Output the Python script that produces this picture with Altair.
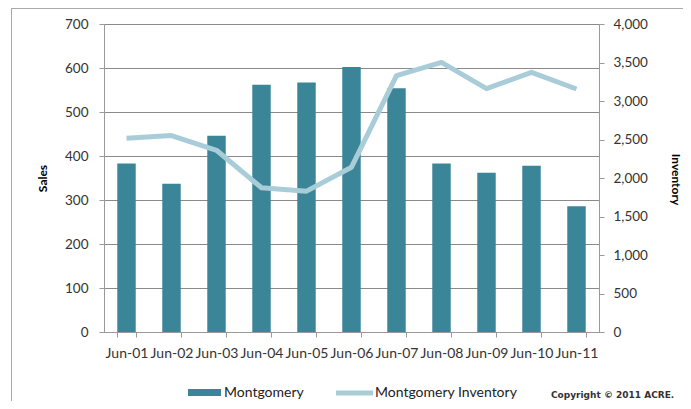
import altair as alt
import pandas as pd

months = ["Jun-01", "Jun-02", "Jun-03", "Jun-04", "Jun-05", "Jun-06",
          "Jun-07", "Jun-08", "Jun-09", "Jun-10", "Jun-11"]
sales = [383, 337, 446, 562, 567, 602, 554, 383, 362, 378, 286]
inventory = [2516, 2551, 2360, 1873, 1829, 2140, 3329, 3501, 3160, 3372, 3156]

sales_ticks = [0, 100, 200, 300, 400, 500, 600, 700]
inv_ticks = [0, 500, 1000, 1500, 2000, 2500, 3000, 3500, 4000]

BAR = "#3a8597"
LINE = "#a9cdd8"
FONT = "Lato"

df = pd.DataFrame({"month": months, "sales": sales, "inventory": inventory})

x = alt.X("month:N", sort=months, title=None,
          scale=alt.Scale(paddingInner=0.59, paddingOuter=0.295),
          axis=alt.Axis(labelAngle=0, tickBand="extent", tickSize=5,
                        labelPadding=9, labelFontSize=14, labelFont=FONT,
                        labelColor="#333", domainColor="#999", tickColor="#999"))

bars = alt.Chart(df).mark_bar(color=BAR).encode(
    x=x,
    y=alt.Y("sales:Q", scale=alt.Scale(domain=[0, 700], nice=False),
            axis=alt.Axis(values=sales_ticks, title="Sales", orient="left",
                          titleAngle=270, titleX=-62, titleY=154,
                          titleAlign="center", titleBaseline="middle",
                          titleFontWeight="bold", titleFontSize=12, titleFont=FONT,
                          titleColor="#000",
                          labelFontSize=13.5, labelFont=FONT, labelColor="#333",
                          labelPadding=11, tickSize=5, grid=True,
                          gridColor="#8a8a8a", domainColor="#999", tickColor="#999")),
)

line = alt.Chart(df).mark_line(color=LINE, strokeWidth=5, strokeJoin="round").encode(
    x=alt.X("month:N", sort=months),
    y=alt.Y("inventory:Q", scale=alt.Scale(domain=[0, 4000], nice=False),
            axis=alt.Axis(values=inv_ticks, format=",.0f", title="Inventory", orient="right",
                          titleAngle=90, titleX=76, titleY=155,
                          titleAlign="center", titleBaseline="middle",
                          titleFontWeight="bold", titleFontSize=12, titleFont=FONT,
                          titleColor="#000",
                          labelFontSize=13.5, labelFont=FONT, labelColor="#333",
                          labelPadding=9, tickSize=5, grid=False,
                          domainColor="#999", tickColor="#999")),
)

main = alt.layer(bars, line).resolve_scale(y="independent")

legend_labels = ["Montgomery", "Montgomery Inventory"]
copyright_text = "Copyright © 2011 ACRE."

blank = alt.Chart(pd.DataFrame({"a": [0]}))

leg_rect = blank.mark_rect(color=BAR).encode(
    x=alt.value(84), x2=alt.value(117), y=alt.value(365), y2=alt.value(372))
leg_t1 = blank.mark_text(align="left", baseline="middle", font=FONT, fontSize=14,
                         color="#222").encode(
    x=alt.value(120), y=alt.value(369), text=alt.value(legend_labels[0]))
leg_line = blank.mark_rule(color=LINE, strokeWidth=5).encode(
    x=alt.value(232), x2=alt.value(269), y=alt.value(369))
leg_t2 = blank.mark_text(align="left", baseline="middle", font=FONT, fontSize=14,
                         color="#222").encode(
    x=alt.value(271), y=alt.value(369), text=alt.value(legend_labels[1]))
copy_t = blank.mark_text(align="left", baseline="middle", font="DejaVu Sans",
                         fontSize=9, fontWeight="bold", color="#333").encode(
    x=alt.value(447), y=alt.value(371), text=alt.value(copyright_text))

border_top = blank.mark_rule(color="#aaaaaa", strokeWidth=1).encode(
    x=alt.value(-93), x2=alt.value(600), y=alt.value(-15.5))
border_left = blank.mark_rule(color="#aaaaaa", strokeWidth=1).encode(
    x=alt.value(-92.5), y=alt.value(-16), y2=alt.value(400))

chart = alt.layer(main, leg_rect, leg_t1, leg_line, leg_t2, copy_t,
                  border_top, border_left).properties(
    width=495, height=308,
    autosize=alt.AutoSizeParams(type="none"),
    padding={"left": 96, "top": 16, "right": 84, "bottom": 69},
).configure_view(stroke="#999", fill="#e9eef2").configure(background="white")

chart.save("out.html", embed_options={"renderer": "svg", "actions": False})
